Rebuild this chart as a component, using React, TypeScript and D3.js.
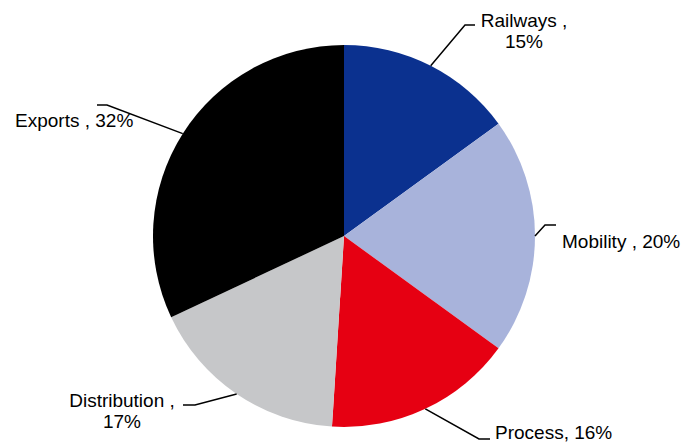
import React from "react";
import * as d3 from "d3";

const categories = ["Railways", "Mobility", "Process", "Distribution", "Exports"];
const values = [15, 20, 16, 17, 32];
const labelLines = [["Railways ,", "15%"], ["Mobility , 20%"], ["Process, 16%"], ["Distribution ,", "17%"], ["Exports , 32%"]];
const colors = ["#0b318f", "#a8b3db", "#e60012", "#c6c7c9", "#000000"];

// label layout: elbow point, line end, text anchor, text x, first baseline
const layout = [
  { elbow: [465, 25], end: [475, 25], anchor: "middle", tx: 524, ty: 27 },
  { elbow: [545, 225], end: [556, 225], anchor: "start", tx: 562, ty: 248 },
  { elbow: [479, 439], end: [490, 439], anchor: "start", tx: 495, ty: 439 },
  { elbow: [195, 405], end: [183, 405], anchor: "middle", tx: 122, ty: 407 },
  { elbow: [107, 105], end: [97, 105], anchor: "start", tx: 15, ty: 127 },
];

export default function App() {
  const W = 699, H = 443;
  const cx = 344, cy = 236, r = 191;
  const pie = d3.pie<number>().sort(null).value((d) => d)(values);
  const arc = d3.arc<d3.PieArcDatum<number>>().innerRadius(0).outerRadius(r);
  return (
    <svg width={W} height={H} style={{ position: "absolute", left: 0, top: 0 }}
      fontFamily="'Liberation Sans', Arial, sans-serif">
      <rect width={W} height={H} fill="#fff" />
      <g transform={`translate(${cx},${cy})`}>
        {pie.map((p, i) => (
          <path key={categories[i]} d={arc(p) || ""} fill={colors[i]} />
        ))}
      </g>
      {pie.map((p, i) => {
        const a = (p.startAngle + p.endAngle) / 2;
        const sx = cx + r * Math.sin(a);
        const sy = cy - r * Math.cos(a);
        const L = layout[i];
        return (
          <g key={"l" + i}>
            <polyline points={`${sx},${sy} ${L.elbow[0]},${L.elbow[1]} ${L.end[0]},${L.end[1]}`}
              fill="none" stroke="#000" strokeWidth={1.5} />
            <text x={L.tx} y={L.ty} textAnchor={L.anchor} fontSize={19} fill="#000">
              {labelLines[i].map((t, j) => (
                <tspan key={j} x={L.tx} dy={j === 0 ? 0 : 21}>{t}</tspan>
              ))}
            </text>
          </g>
        );
      })}
    </svg>
  );
}
